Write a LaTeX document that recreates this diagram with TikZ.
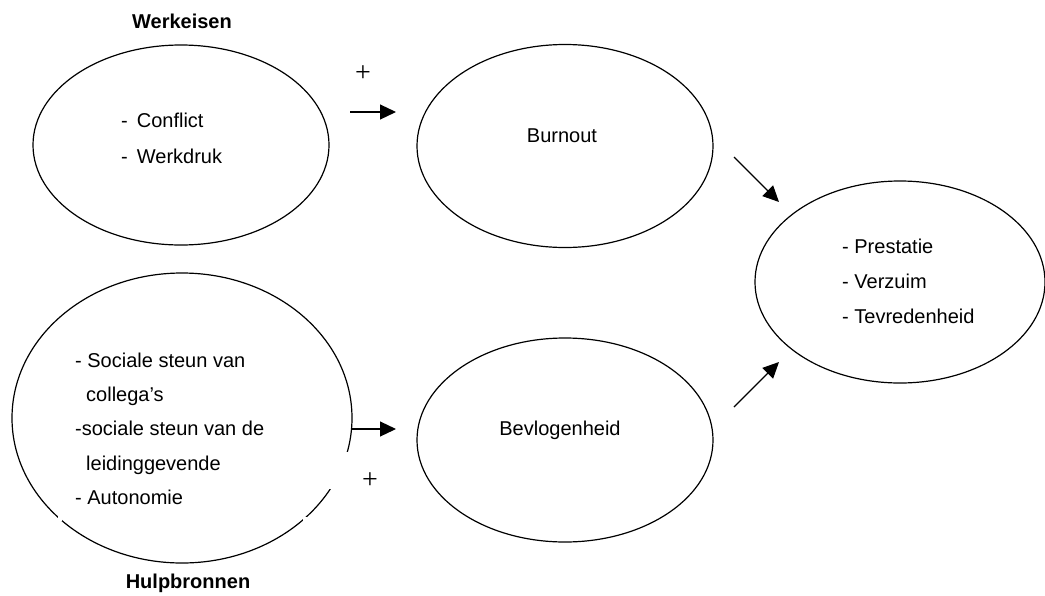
\documentclass[tikz,border=0pt]{standalone}
\usepackage{fontspec}
\setmainfont{Liberation Sans}
\newfontfamily\plusfont{Liberation Serif}
\usetikzlibrary{shapes.geometric,arrows.meta}
\tikzset{
  ell/.style={draw, ellipse, line width=1.2pt, inner sep=0pt},
  txt/.style={inner sep=0pt, anchor=base west, font=\fontsize{20}{24}\selectfont},
  ctxt/.style={inner sep=0pt, anchor=base, font=\fontsize{20}{24}\selectfont},
  ttl/.style={inner sep=0pt, anchor=base, font=\fontsize{20}{24}\selectfont\bfseries},
  plus/.style={inner sep=0pt, font=\fontsize{28}{30}\selectfont\plusfont},
  arr/.style={-{Triangle[length=16pt,width=15pt]}, line width=1.2pt},
  gap/.style={fill=white, draw=none}
}
\begin{document}
\begin{tikzpicture}[x=1pt,y=-1pt]
\useasboundingbox (0,0) rectangle (1045,595);
% ellipses
\node[ell, minimum width=296pt, minimum height=200pt] (werk) at (181,145) {};
\node[ell, minimum width=340pt, minimum height=290pt] (hulp) at (182,418) {};
\node[ell, minimum width=296pt, minimum height=203pt] (burn) at (565,146) {};
\node[ell, minimum width=296pt, minimum height=204pt] (bevl) at (565,440) {};
\node[ell, minimum width=290pt, minimum height=202pt] (uitk) at (900,282) {};
% gaps in the Hulpbronnen ellipse
\fill[gap] (318,452) rectangle (356,489);
\fill[gap] (302.5,516.5) rectangle (307,521);
\fill[gap] (57.5,515.5) rectangle (62,520.5);
% titles
\node[ttl] (tw) at (182,28) {Werkeisen};
\node[ttl] (th) at (188,588) {Hulpbronnen};
% texts
\node[txt] (w1) at (121,127) {-\hspace{9pt}Conflict};
\node[txt] (w2) at (121,163) {-\hspace{9pt}Werkdruk};
\node[ctxt] (bu) at (562,142) {Burnout};
\node[ctxt] (be) at (560,435) {Bevlogenheid};
\node[txt] (h1) at (75,367) {- Sociale steun van};
\node[txt] (h2) at (86,401) {collega’s};
\node[txt] (h3) at (75,435) {-sociale steun van de};
\node[txt] (h4) at (86,470) {leidinggevende};
\node[txt] (h5) at (75,504) {- Autonomie};
\node[txt] (u1) at (842,253) {- Prestatie};
\node[txt] (u2) at (842,288) {- Verzuim};
\node[txt] (u3) at (842,323) {- Tevredenheid};
% plus signs
\node[plus] (p1) at (363,74) {+};
\node[plus] (p2) at (370,481) {+};
% arrows
\coordinate (a1s) at (350,112);
\coordinate (a1e) at (396,112);
\coordinate (a2s) at (351,429);
\coordinate (a2e) at (396,429);
\coordinate (a3s) at (734,157);
\coordinate (a3e) at (779,202);
\coordinate (a4s) at (734,407);
\coordinate (a4e) at (779,362);
\draw[arr] (a1s) -- (a1e);
\draw[arr] (a2s) -- (a2e);
\draw[arr] (a3s) -- (a3e);
\draw[arr] (a4s) -- (a4e);
\end{tikzpicture}
\end{document}
